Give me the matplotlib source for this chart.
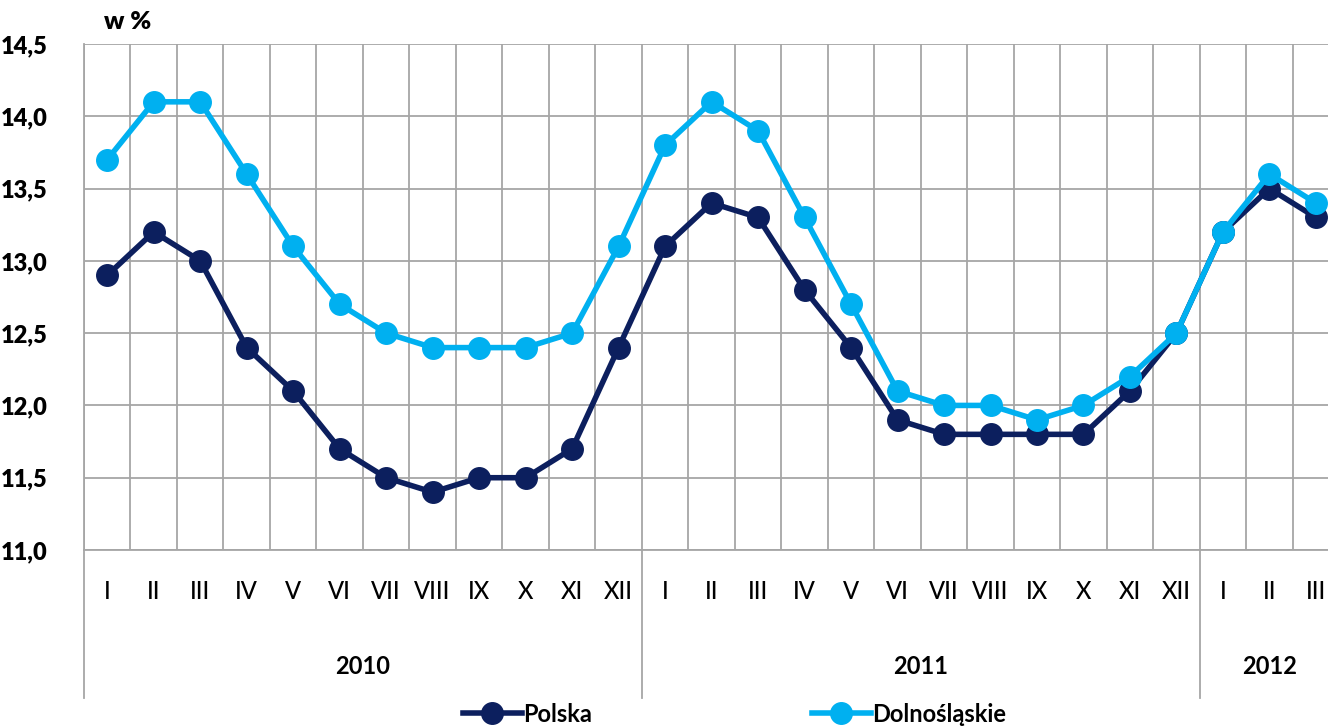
import numpy as np
import matplotlib
matplotlib.use('Agg')
import matplotlib.pyplot as plt
from matplotlib.lines import Line2D

# ── data ─────────────────────────────────────────────────────────────────────
MONTHS = ["I", "II", "III", "IV", "V", "VI", "VII", "VIII", "IX", "X", "XI", "XII",
          "I", "II", "III", "IV", "V", "VI", "VII", "VIII", "IX", "X", "XI", "XII",
          "I", "II", "III"]
YEARS = ["2010", "2011", "2012"]
YEAR_LEN = [12, 12, 3]

polska = [12.9, 13.2, 13.0, 12.4, 12.1, 11.7, 11.5, 11.4, 11.5, 11.5, 11.7, 12.4,
          13.1, 13.4, 13.3, 12.8, 12.4, 11.9, 11.8, 11.8, 11.8, 11.8, 12.1, 12.5,
          13.2, 13.5, 13.3]
dolnoslaskie = [13.7, 14.1, 14.1, 13.6, 13.1, 12.7, 12.5, 12.4, 12.4, 12.4, 12.5, 13.1,
                13.8, 14.1, 13.9, 13.3, 12.7, 12.1, 12.0, 12.0, 11.9, 12.0, 12.2, 12.5,
                13.2, 13.6, 13.4]

C_PL = "#0C1F5E"
C_DS = "#00B0F0"
GRID = "#A6A6A6"
FONT = "Lato"

plt.rcParams['font.family'] = [FONT, 'DejaVu Sans']

fig = plt.figure(figsize=(13.28, 7.28), dpi=100)
ax = fig.add_axes([84 / 1328, 1 - 550 / 728, 1 - 84 / 1328, 506 / 728])

x = np.arange(len(MONTHS))
ax.plot(x, polska, color=C_PL, lw=4, marker="o", ms=15.5, zorder=3)
ax.plot(x, dolnoslaskie, color=C_DS, lw=4, marker="o", ms=15.5, zorder=4)

ax.set_xlim(-0.5, 26.26)
ax.set_ylim(11.0, 14.5)
ax.set_yticks(np.arange(11.0, 14.51, 0.5))
ax.set_yticklabels([f"{v:.1f}".replace(".", ",") for v in np.arange(11.0, 14.51, 0.5)],
                   fontsize=17, fontweight="heavy")
ax.tick_params(axis="y", length=0, pad=26)
ax.set_xticks(np.arange(-0.5, 26.5, 1))
ax.set_xticklabels([])
ax.tick_params(axis="x", length=0)
ax.grid(True, color=GRID, lw=1.3)
ax.set_axisbelow(True)
for s in ["top", "right"]:
    ax.spines[s].set_visible(False)
for s in ["left", "bottom"]:
    ax.spines[s].set_color(GRID)
    ax.spines[s].set_linewidth(1.3)

trans = ax.get_xaxis_transform()
for i, m in enumerate(MONTHS):
    ax.text(i, -0.083, m, transform=trans, ha="center", va="center",
            fontsize=17, fontweight="medium")

start = 0
for yr, n in zip(YEARS, YEAR_LEN):
    mid = start + (n - 1) / 2
    ax.text(mid, -0.231, yr, transform=trans, ha="center", va="center",
            fontsize=17, fontweight="bold")
    ax.plot([start - 0.5, start - 0.5], [0, -0.2925], transform=trans,
            color=GRID, lw=1.3, clip_on=False)
    start += n

fig.text(104 / 1328, 1 - 22 / 728, "w %", fontsize=18, fontweight="heavy",
         ha="left", va="center")

handles = [
    Line2D([], [], color=C_PL, lw=4, marker="o", ms=15.5),
    Line2D([], [], color=C_DS, lw=4, marker="o", ms=15.5),
]
fig.legend(handles, ["Polska", "Dolnośląskie"], loc="center",
           bbox_to_anchor=(0.553, 0.019), ncol=2, frameon=False,
           prop={"weight": "bold", "size": 17},
           handlelength=2.5, handletextpad=0.05, columnspacing=9.3)

fig.savefig("out.png", dpi=100, facecolor="white")
